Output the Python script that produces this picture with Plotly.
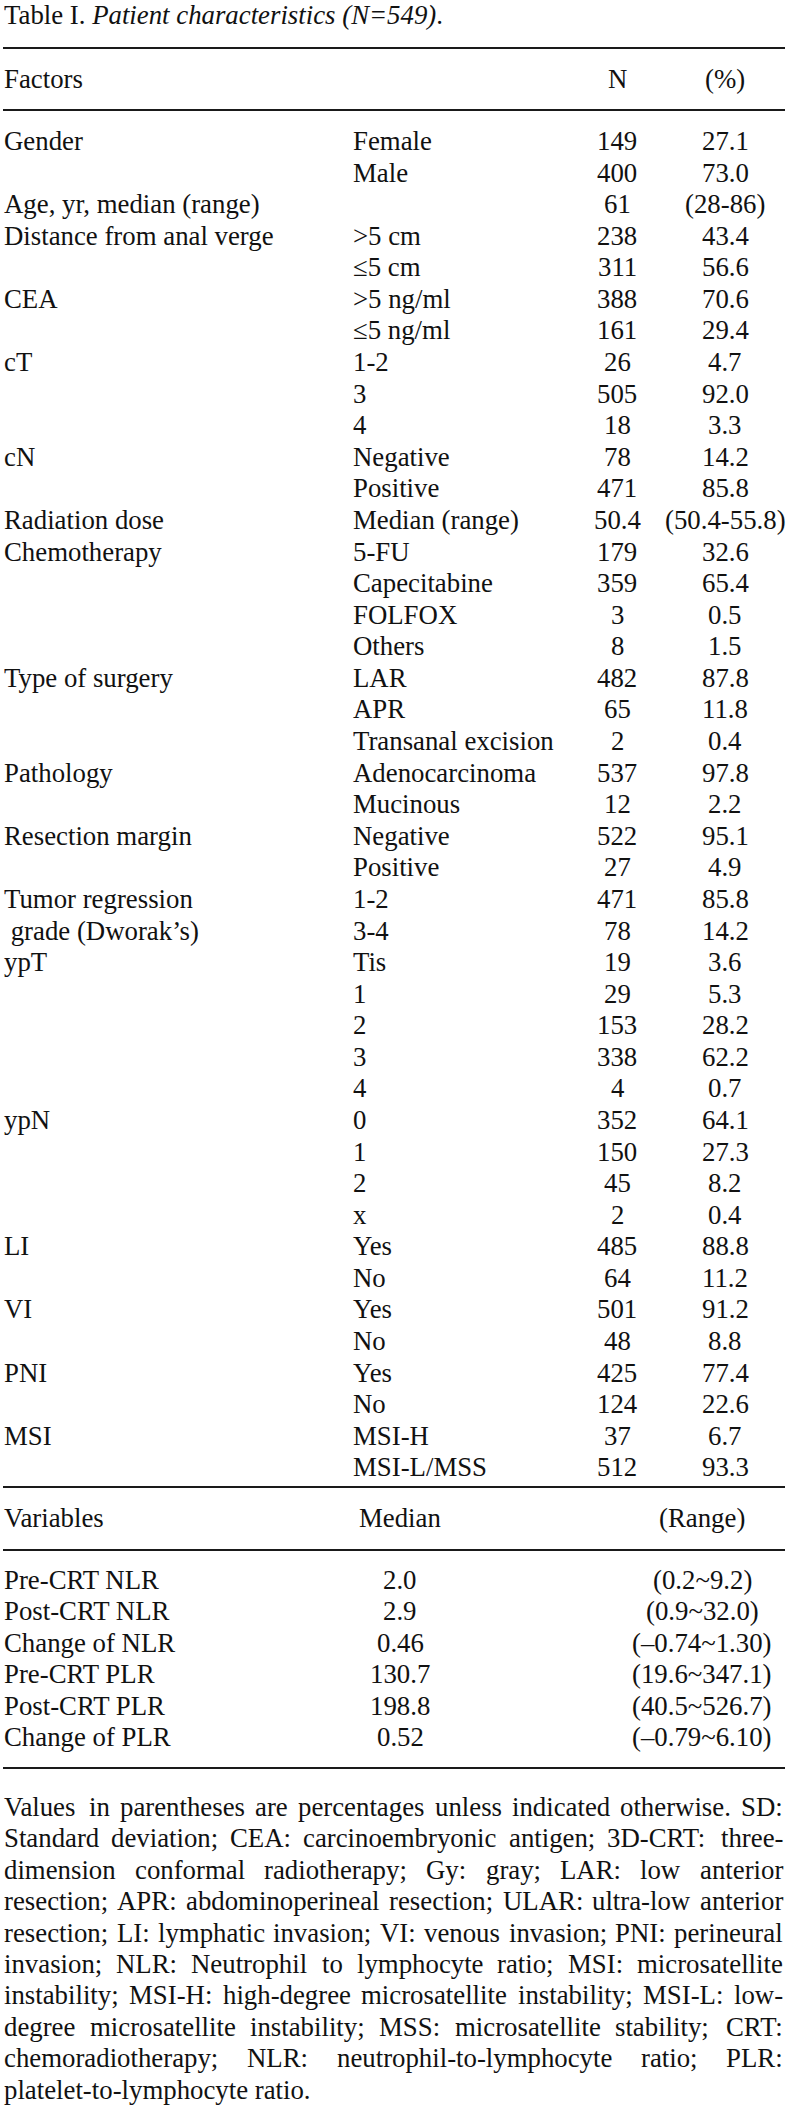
import plotly.graph_objects as go

# ---------------- data ----------------
title_prefix = "Table I. "
title_italic = "Patient characteristics (N=549)"
header_factor = "Factors"
header_n = "N"
header_pct = "(%)"

factors = ["Gender", "", "Age, yr, median (range)", "Distance from anal verge", "",
           "CEA", "", "cT", "", "", "cN", "", "Radiation dose", "Chemotherapy", "", "", "",
           "Type of surgery", "", "", "Pathology", "", "Resection margin", "",
           "Tumor regression", "\u00a0grade (Dworak\u2019s)", "ypT", "", "", "", "",
           "ypN", "", "", "", "LI", "", "VI", "", "PNI", "", "MSI", ""]
subgroups = ["Female", "Male", "", ">5 cm", "\u22645 cm", ">5 ng/ml", "\u22645 ng/ml",
             "1-2", "3", "4", "Negative", "Positive", "Median (range)", "5-FU",
             "Capecitabine", "FOLFOX", "Others", "LAR", "APR", "Transanal excision",
             "Adenocarcinoma", "Mucinous", "Negative", "Positive", "1-2", "3-4",
             "Tis", "1", "2", "3", "4", "0", "1", "2", "x", "Yes", "No", "Yes", "No",
             "Yes", "No", "MSI-H", "MSI-L/MSS"]
n_values = ["149", "400", "61", "238", "311", "388", "161", "26", "505", "18", "78",
            "471", "50.4", "179", "359", "3", "8", "482", "65", "2", "537", "12", "522",
            "27", "471", "78", "19", "29", "153", "338", "4", "352", "150", "45", "2",
            "485", "64", "501", "48", "425", "124", "37", "512"]
pct_values = ["27.1", "73.0", "(28-86)", "43.4", "56.6", "70.6", "29.4", "4.7", "92.0",
              "3.3", "14.2", "85.8", "(50.4-55.8)", "32.6", "65.4", "0.5", "1.5", "87.8",
              "11.8", "0.4", "97.8", "2.2", "95.1", "4.9", "85.8", "14.2", "3.6", "5.3",
              "28.2", "62.2", "0.7", "64.1", "27.3", "8.2", "0.4", "88.8", "11.2", "91.2",
              "8.8", "77.4", "22.6", "6.7", "93.3"]

var_headers = ["Variables", "Median", "(Range)"]
variables = ["Pre-CRT NLR", "Post-CRT NLR", "Change of NLR", "Pre-CRT PLR",
             "Post-CRT PLR", "Change of PLR"]
medians = ["2.0", "2.9", "0.46", "130.7", "198.8", "0.52"]
ranges = ["(0.2~9.2)", "(0.9~32.0)", "(\u20130.74~1.30)", "(19.6~347.1)",
          "(40.5~526.7)", "(\u20130.79~6.10)"]

footnote_lines = [
    "Values in parentheses are percentages unless indicated otherwise. SD:",
    "Standard deviation; CEA: carcinoembryonic antigen; 3D-CRT: three-",
    "dimension conformal radiotherapy; Gy: gray; LAR: low anterior",
    "resection; APR: abdominoperineal resection; ULAR: ultra-low anterior",
    "resection; LI: lymphatic invasion; VI: venous invasion; PNI: perineural",
    "invasion; NLR: Neutrophil to lymphocyte ratio; MSI: microsatellite",
    "instability; MSI-H: high-degree microsatellite instability; MSI-L: low-",
    "degree microsatellite instability; MSS: microsatellite stability; CRT:",
    "chemoradiotherapy; NLR: neutrophil-to-lymphocyte ratio; PLR:",
    "platelet-to-lymphocyte ratio.",
]

# ---------------- layout constants ----------------
W, H = 799, 2120
FONT = "Liberation Serif, Times New Roman, serif"
FS = 26.8
COLOR = "#111111"
RULE_COLOR = "#1a1a1a"

X_LEFT = 4
X_SUB = 353
X_N = 617
X_PCT = 725
X_MED = 400
X_RANGE = 702
RULE_X0, RULE_X1 = 3, 785
FOOT_RIGHT = 783

TITLE_Y = 15
HEADER_Y = 79
ROW0_Y = 141
ROW_STEP = 31.58
VAR_HEADER_Y = 1518
VAR_ROW0 = 1580
VAR_STEP = 31.4
FOOT0 = 1807
FOOT_STEP = 31.4
RULES_Y = [48, 110, 1487, 1550, 1768]

# Times metrics (1/1000 em) for justification
TIMES = {' ': 250, '!': 333, '(': 333, ')': 333, ',': 250, '-': 333, '.': 250, '/': 278,
         ':': 278, ';': 278, '%': 833, '=': 564, '>': 564, '<': 564, '~': 541}
for ch in "0123456789":
    TIMES[ch] = 500
TIMES.update(dict(zip("ABCDEFGHIJKLMNOPQRSTUVWXYZ",
                      [722, 667, 667, 722, 611, 556, 722, 722, 333, 389, 722, 611, 889,
                       722, 722, 556, 722, 667, 556, 611, 722, 722, 944, 722, 722, 611])))
TIMES.update(dict(zip("abcdefghijklmnopqrstuvwxyz",
                      [444, 500, 444, 500, 444, 333, 500, 500, 278, 278, 500, 278, 778,
                       500, 500, 500, 500, 333, 389, 278, 500, 500, 722, 500, 500, 444])))


def tw(s, size=FS):
    return sum(TIMES.get(c, 500) for c in s) * size / 1000.0


annotations = []


def add_text(x, y, text, anchor="left"):
    annotations.append(dict(
        x=x, y=y, xref="x", yref="y", text=text, showarrow=False,
        xanchor=anchor, yanchor="middle", borderpad=0, borderwidth=0,
        font=dict(family=FONT, size=FS, color=COLOR)))


# title
add_text(X_LEFT, TITLE_Y, title_prefix + "<i>" + title_italic + "</i>.")

# header
add_text(X_LEFT, HEADER_Y, header_factor)
add_text(X_N, HEADER_Y, header_n, "center")
add_text(X_PCT, HEADER_Y, header_pct, "center")

# main rows
for i in range(len(subgroups)):
    y = ROW0_Y + i * ROW_STEP
    if factors[i]:
        add_text(X_LEFT, y, factors[i])
    if subgroups[i]:
        add_text(X_SUB, y, subgroups[i])
    add_text(X_N, y, n_values[i], "center")
    add_text(X_PCT, y, pct_values[i], "center")

# variable section
add_text(X_LEFT, VAR_HEADER_Y, var_headers[0])
add_text(X_MED, VAR_HEADER_Y, var_headers[1], "center")
add_text(X_RANGE, VAR_HEADER_Y, var_headers[2], "center")
for i in range(len(variables)):
    y = VAR_ROW0 + i * VAR_STEP
    add_text(X_LEFT, y, variables[i])
    add_text(X_MED, y, medians[i], "center")
    add_text(X_RANGE, y, ranges[i], "center")

# footnote, justified
for li, line in enumerate(footnote_lines):
    y = FOOT0 + li * FOOT_STEP
    words = line.split(" ")
    if li == len(footnote_lines) - 1 or len(words) == 1:
        add_text(X_LEFT, y, line)
        continue
    widths = [tw(w) for w in words]
    gap = (FOOT_RIGHT - X_LEFT - sum(widths)) / (len(words) - 1)
    x = X_LEFT
    for k, w in enumerate(words):
        if k == len(words) - 1:
            add_text(FOOT_RIGHT, y, w, "right")
        else:
            add_text(x, y, w)
        x += widths[k] + gap

fig = go.Figure()
# rules drawn as line traces on the axes
for ry in RULES_Y:
    fig.add_trace(go.Scatter(x=[RULE_X0, RULE_X1], y=[ry, ry], mode="lines",
                             line=dict(color=RULE_COLOR, width=2), hoverinfo="skip",
                             showlegend=False))

fig.update_layout(
    width=W, height=H, margin=dict(l=0, r=0, t=0, b=0),
    paper_bgcolor="white", plot_bgcolor="white",
    xaxis=dict(range=[0, W], visible=False, fixedrange=True),
    yaxis=dict(range=[H, 0], visible=False, fixedrange=True),
    annotations=annotations, showlegend=False,
)

fig.write_html("out.html", config={"displayModeBar": False},
               post_script="document.body.style.margin='0';")
